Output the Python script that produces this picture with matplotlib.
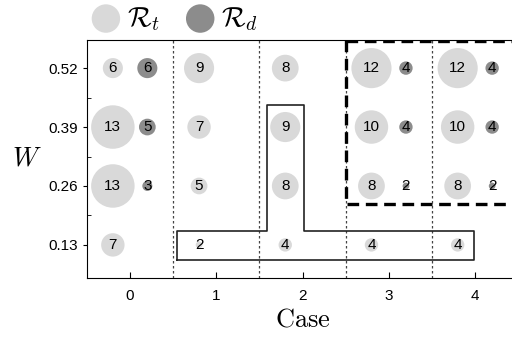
import numpy as np
import matplotlib.pyplot as plt
from matplotlib.ticker import FixedLocator

plt.rcParams['mathtext.fontset'] = 'cm'
plt.rcParams['font.family'] = ['Liberation Sans', 'DejaVu Sans']

cases = [0, 1, 2, 3, 4]
w_levels = [0.13, 0.26, 0.39, 0.52]
# rows: case, columns: W = 0.13, 0.26, 0.39, 0.52
r_t = [[7, 13, 13, 6],
       [2, 5, 7, 9],
       [4, 8, 9, 8],
       [4, 8, 10, 12],
       [4, 8, 10, 12]]
r_d = [[0, 3, 5, 6],
       [0, 0, 0, 0],
       [0, 0, 0, 0],
       [0, 2, 4, 4],
       [0, 2, 4, 4]]

light = '#d9d9d9'
dark = '#8c8c8c'

fig = plt.figure(figsize=(5.12, 3.4), dpi=100)
ax = fig.add_axes([87/512, 62/340, 431/512, 238/340])

for i, c in enumerate(cases):
    for j, w in enumerate(w_levels):
        v = r_t[i][j]
        if v > 0:
            ax.scatter(c - 0.2, w, s=5.8 * v**2, color=light, edgecolors='none', zorder=2)
            ax.text(c - 0.2, w, str(v), ha='center', va='center', fontsize=11, zorder=3)
        v = r_d[i][j]
        if v > 0:
            ax.scatter(c + 0.2, w, s=5.8 * v**2, color=dark, edgecolors='none', zorder=2)
            ax.text(c + 0.2, w, str(v), ha='center', va='center', fontsize=11, zorder=3)

for xv in [0.5, 1.5, 2.5, 3.5]:
    ax.axvline(xv, color='#444444', lw=0.9, ls=(0, (2, 2)), zorder=1)

# thick dashed region
ax.plot([2.5, 2.5, 4.5], [0.582, 0.22, 0.22], color='black', lw=2.4, ls=(0, (3.5, 2)), zorder=4)
ax.plot([2.5, 4.5], [0.5805, 0.5805], color='black', lw=2.4, ls=(0, (3.5, 2)), zorder=4)

# T-shaped outline
tx = [0.545, 3.986, 3.986, 2.02, 2.02, 1.584, 1.584, 0.545, 0.545]
ty = [0.097, 0.097, 0.161, 0.161, 0.4385, 0.4385, 0.161, 0.161, 0.097]
ax.plot(tx, ty, color='#222222', lw=1.2, zorder=4)

ax.set_xlim(-0.5, 4.5)
ax.set_ylim(0.057, 0.582)
ax.set_xticks(cases)
ax.set_yticks(w_levels)
ax.set_yticklabels(['0.13', '0.26', '0.39', '0.52'])
ax.yaxis.set_minor_locator(FixedLocator([0.195, 0.325, 0.455]))
ax.tick_params(axis='x', direction='in', length=4, labelsize=11, pad=8)
ax.tick_params(axis='y', which='major', direction='out', length=3, labelsize=11)
ax.tick_params(axis='y', which='minor', direction='in', length=3)
ax.spines['right'].set_visible(False)

ax.set_xlabel(r'$\mathrm{Case}$', fontsize=19, labelpad=3)
ax.set_ylabel(r'$W$', fontsize=19, rotation=0)
ax.yaxis.set_label_coords(-0.14, 0.45)

h1 = ax.scatter([], [], s=420, color=light, edgecolors='none')
h2 = ax.scatter([], [], s=420, color=dark, edgecolors='none')
fig.legend([h1, h2], [r'$\mathcal{R}_t$', r'$\mathcal{R}_d$'], loc='center',
           bbox_to_anchor=(0.335, 0.945), ncol=2, frameon=False, fontsize=20,
           handletextpad=0.0, columnspacing=0.7, borderpad=0, handlelength=1.5)

fig.savefig('out.png', dpi=100)
